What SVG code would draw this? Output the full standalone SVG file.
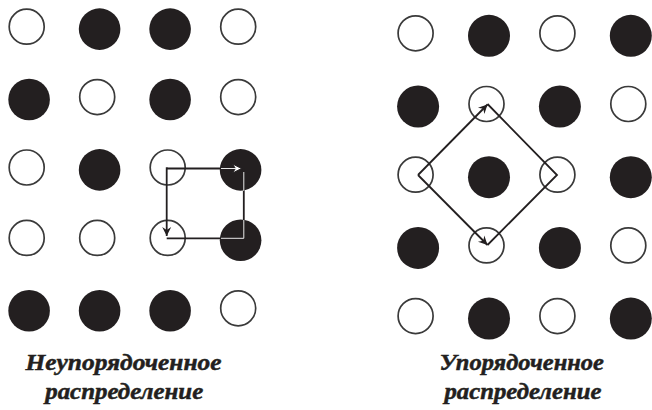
<svg xmlns="http://www.w3.org/2000/svg" width="652" height="410" viewBox="0 0 652 410">
<style>
.o{fill:#fff;stroke:#3a3a3a;stroke-width:1.7}
.f{fill:#231f20}
.lbl{font-family:"Liberation Serif","Times New Roman",serif;font-weight:bold;font-style:italic;font-size:24px;fill:#231f20;stroke:#231f20;stroke-width:0.5;text-anchor:middle}
.ln{fill:none;stroke:#231f20;stroke-width:1.8;stroke-linejoin:miter}
.lnw{fill:none;stroke:#fff;stroke-width:0.9}
</style>
<defs>
<marker id="ah" viewBox="-10 -5 11 10" refX="0" refY="0" markerWidth="11" markerHeight="10" markerUnits="userSpaceOnUse" orient="auto">
<path d="M-9,-4.5 L0,0 L-9,4.5 L-6,0 z" fill="#231f20"/>
</marker>
<marker id="ahw" viewBox="-11 -6 13 12" refX="0" refY="0" markerWidth="13" markerHeight="12" markerUnits="userSpaceOnUse" orient="auto">
<path d="M-9,-4.5 L0,0 L-9,4.5 L-6,0 z" fill="#fff" stroke="#231f20" stroke-width="0.9"/>
</marker>
</defs>
<rect width="652" height="410" fill="#fff"/>

<g id="left-grid">
<g id="L11"><circle class="o" cx="26.7" cy="26.7" r="17.5"/></g>
<g id="L12"><circle class="f" cx="99.6" cy="29.1" r="20.8"/></g>
<g id="L13"><circle class="f" cx="170.1" cy="29.1" r="20.8"/></g>
<g id="L14"><circle class="o" cx="238.2" cy="26.7" r="17.5"/></g>

<g id="L21"><circle class="f" cx="29.1" cy="99.5" r="20.8"/></g>
<g id="L22"><circle class="o" cx="97.2" cy="97.1" r="17.5"/></g>
<g id="L23"><circle class="f" cx="170.1" cy="99.5" r="20.8"/></g>
<g id="L24"><circle class="o" cx="238.2" cy="97.1" r="17.5"/></g>

<g id="L31"><circle class="o" cx="26.7" cy="167.5" r="17.5"/></g>
<g id="L32"><circle class="f" cx="99.6" cy="169.9" r="20.8"/></g>
<g id="L33"><circle class="o" cx="167.7" cy="167.5" r="17.5"/></g>
<g id="L34"><circle class="f" cx="240.6" cy="169.9" r="20.8"/></g>

<g id="L41"><circle class="o" cx="26.7" cy="237.9" r="17.5"/></g>
<g id="L42"><circle class="o" cx="97.2" cy="237.9" r="17.5"/></g>
<g id="L43"><circle class="o" cx="167.7" cy="237.9" r="17.5"/></g>
<g id="L44"><circle class="f" cx="240.6" cy="240.3" r="20.8"/></g>

<g id="L51"><circle class="f" cx="29.1" cy="310.7" r="20.8"/></g>
<g id="L52"><circle class="f" cx="99.6" cy="310.7" r="20.8"/></g>
<g id="L53"><circle class="f" cx="170.1" cy="310.7" r="20.8"/></g>
<g id="L54"><circle class="o" cx="238.2" cy="308.3" r="17.5"/></g>
</g>

<g id="right-grid">
<g id="R11"><circle class="o" cx="415.6" cy="33.3" r="17.5"/></g>
<g id="R12"><circle class="f" cx="489.0" cy="35.8" r="21"/></g>
<g id="R13"><circle class="o" cx="557.4" cy="33.3" r="17.5"/></g>
<g id="R14"><circle class="f" cx="630.8" cy="35.8" r="21"/></g>

<g id="R21"><circle class="f" cx="418.1" cy="106.5" r="21"/></g>
<g id="R22"><circle class="o" cx="486.5" cy="104.0" r="17.5"/></g>
<g id="R23"><circle class="f" cx="559.9" cy="106.5" r="21"/></g>
<g id="R24"><circle class="o" cx="628.3" cy="104.0" r="17.5"/></g>

<g id="R31"><circle class="o" cx="415.6" cy="174.7" r="17.5"/></g>
<g id="R32"><circle class="f" cx="489.0" cy="177.2" r="21"/></g>
<g id="R33"><circle class="o" cx="557.4" cy="174.7" r="17.5"/></g>
<g id="R34"><circle class="f" cx="630.8" cy="177.2" r="21"/></g>

<g id="R41"><circle class="f" cx="418.1" cy="247.9" r="21"/></g>
<g id="R42"><circle class="o" cx="486.5" cy="245.4" r="17.5"/></g>
<g id="R43"><circle class="f" cx="559.9" cy="247.9" r="21"/></g>
<g id="R44"><circle class="o" cx="628.3" cy="245.4" r="17.5"/></g>

<g id="R51"><circle class="o" cx="415.6" cy="316.1" r="17.5"/></g>
<g id="R52"><circle class="f" cx="489.0" cy="318.6" r="21"/></g>
<g id="R53"><circle class="o" cx="557.4" cy="316.1" r="17.5"/></g>
<g id="R54"><circle class="f" cx="630.8" cy="318.6" r="21"/></g>
</g>

<g id="connectors">
<!-- left: square path -->
<path class="ln" d="M243.8,168.5 L243.8,238.3 L166.7,238.3" stroke-width="2.4"/>
<path class="lnw" d="M243.8,172 L243.8,191"/>
<path class="lnw" d="M243.8,220 L243.8,238.3 L221,238.3"/>
<path class="ln" d="M166.7,168.5 L241.5,168.5" stroke-width="2.4" marker-end="url(#ahw)"/>
<path class="lnw" d="M221,168.5 L236,168.5"/>
<path class="ln" d="M166.7,167.3 L166.7,236" stroke-width="2.4" marker-end="url(#ah)"/>
<!-- right: diamond -->
<path class="ln" d="M487.5,104 L557,175 L487.5,245"/>
<path class="ln" d="M418,175 L487.5,104.5" marker-end="url(#ah)"/>
<path class="ln" d="M418,175 L487.5,245" marker-end="url(#ah)"/>
</g>

<g id="labels">
<text class="lbl" x="123.5" y="370" textLength="196" lengthAdjust="spacingAndGlyphs">Неупорядоченное</text>
<text class="lbl" x="124.2" y="398.5" textLength="158" lengthAdjust="spacingAndGlyphs">распределение</text>
<text class="lbl" x="521.7" y="370" textLength="164.5" lengthAdjust="spacingAndGlyphs">Упорядоченное</text>
<text class="lbl" x="523" y="398.5" textLength="157" lengthAdjust="spacingAndGlyphs">распределение</text>
</g>
</svg>
